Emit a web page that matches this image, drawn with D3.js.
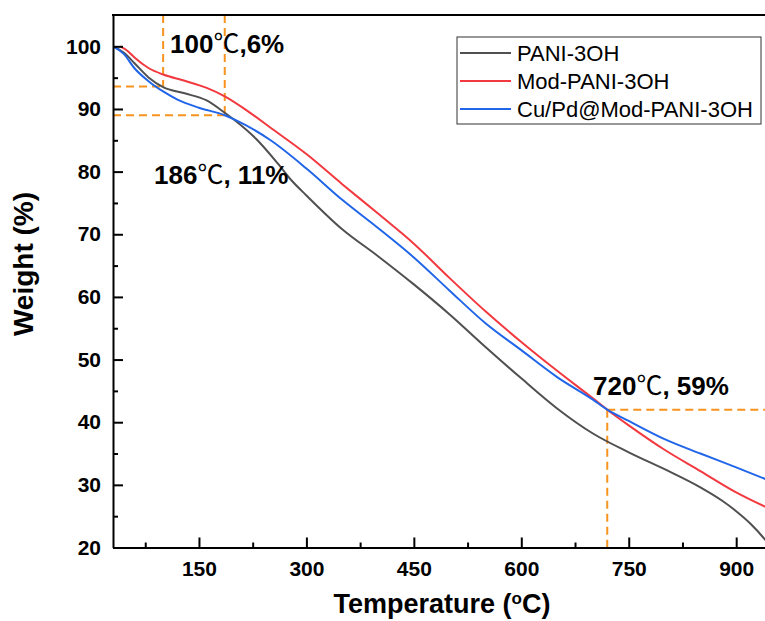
<!DOCTYPE html>
<html>
<head>
<meta charset="utf-8">
<script src="https://cdn.jsdelivr.net/npm/d3@7"></script>
<style>
  body { margin: 0; background: #fff; }
  text { font-family: "Liberation Sans", Arial, sans-serif; }
</style>
</head>
<body>
<div id="chart"></div>
<script>
// series names and colours
const seriesNames = ["PANI-3OH", "Mod-PANI-3OH", "Cu/Pd@Mod-PANI-3OH"];
const seriesColors = ["#505050", "#F2393F", "#2166E8"];

// temperature (C) / weight (%)
const paniT = [30, 45, 60, 80, 100, 130, 160, 186, 200, 230, 260, 280, 300, 350, 400, 450, 500, 550, 600, 650, 700, 750, 800, 850, 880, 900, 920, 940, 950];
const paniW = [100, 99, 97.3, 95.0, 93.5, 92.5, 91.4, 89.4, 88.2, 85.2, 81.3, 78.5, 76.2, 70.8, 66.5, 62.0, 57.2, 52.0, 47.0, 42.2, 38.2, 35.2, 32.5, 29.6, 27.5, 25.8, 23.8, 21.3, 19.8];

const modT = [40, 50, 60, 80, 100, 130, 160, 186, 220, 250, 300, 350, 400, 450, 500, 550, 600, 650, 700, 720, 750, 800, 850, 900, 950];
const modW = [100, 99.3, 98.2, 96.5, 95.5, 94.5, 93.4, 92.0, 89.5, 87.0, 82.8, 78.0, 73.3, 68.5, 63.0, 57.7, 52.8, 48.2, 43.8, 42.0, 39.5, 35.6, 32.2, 28.8, 26.0];

const cuT = [30, 45, 60, 80, 100, 120, 150, 186, 200, 250, 300, 350, 400, 450, 500, 550, 600, 650, 700, 720, 750, 800, 850, 900, 950];
const cuW = [100, 98.8, 96.5, 94.4, 92.8, 91.5, 90.2, 89.0, 88.3, 85.0, 80.5, 75.5, 71.0, 66.3, 61.0, 55.8, 51.5, 47.2, 43.6, 42.0, 40.2, 37.3, 35.0, 32.8, 30.5];

const xTicks = [150, 300, 450, 600, 750, 900];
const xMinor = [75, 225, 375, 525, 675, 825];
const yTicks = [20, 30, 40, 50, 60, 70, 80, 90, 100];
const yMinor = [25, 35, 45, 55, 65, 75, 85, 95];

const fullwidth = 765;
const fullheight = 621;
const plotLeft = 113, plotTop = 15, plotRight = 772, plotBottom = 547.5;
const orange = "#F7931E";

var svg = d3.select("#chart").append("svg")
  .attr("width", fullwidth)
  .attr("height", fullheight);

var x = d3.scaleLinear().domain([30, 950]).range([plotLeft, plotRight]);
var y = d3.scaleLinear().domain([20, 105]).range([plotBottom, plotTop]);

svg.append("defs").append("clipPath").attr("id", "plotclip")
  .append("rect").attr("x", plotLeft).attr("y", plotTop)
  .attr("width", plotRight - plotLeft).attr("height", plotBottom - plotTop);

// dashed guides
var guides = svg.append("g")
  .attr("stroke", orange).attr("stroke-width", 2)
  .attr("stroke-dasharray", "8,5").attr("fill", "none");
guides.append("line").attr("x1", x(100)).attr("x2", x(100)).attr("y1", y(105)).attr("y2", y(93.6));
guides.append("line").attr("x1", x(30)).attr("x2", x(100)).attr("y1", y(93.6)).attr("y2", y(93.6));
guides.append("line").attr("x1", x(186)).attr("x2", x(186)).attr("y1", y(105)).attr("y2", y(89));
guides.append("line").attr("x1", x(30)).attr("x2", x(186)).attr("y1", y(89)).attr("y2", y(89));
guides.append("line").attr("x1", x(720)).attr("x2", x(720)).attr("y1", y(42)).attr("y2", y(20));
guides.append("line").attr("x1", x(720)).attr("x2", x(950)).attr("y1", y(42)).attr("y2", y(42));

// curves
var line = d3.line()
  .x(d => x(d[0]))
  .y(d => y(d[1]))
  .curve(d3.curveMonotoneX);

var series = [
  d3.zip(paniT, paniW),
  d3.zip(modT, modW),
  d3.zip(cuT, cuW)
];

svg.append("g").attr("clip-path", "url(#plotclip)")
  .selectAll("path")
  .data(series)
  .enter().append("path")
  .attr("fill", "none")
  .attr("stroke", (d, i) => seriesColors[i])
  .attr("stroke-width", 2)
  .attr("d", line);

// axes, ticks pointing inward
svg.append("g")
  .attr("transform", "translate(0," + plotBottom + ")")
  .call(d3.axisBottom(x).tickValues(xTicks).tickSizeInner(-10).tickSizeOuter(0).tickPadding(14));
svg.append("g")
  .attr("transform", "translate(0," + plotBottom + ")")
  .call(d3.axisBottom(x).tickValues(xMinor).tickSizeInner(-5).tickSizeOuter(0).tickFormat(""))
  .call(g => g.select(".domain").remove());

svg.append("g")
  .attr("transform", "translate(" + plotLeft + ",0)")
  .call(d3.axisLeft(y).tickValues(yTicks).tickSizeInner(-10).tickSizeOuter(0).tickPadding(12));
svg.append("g")
  .attr("transform", "translate(" + plotLeft + ",0)")
  .call(d3.axisLeft(y).tickValues(yMinor).tickSizeInner(-5).tickSizeOuter(0).tickFormat(""))
  .call(g => g.select(".domain").remove());

svg.selectAll(".domain").attr("stroke", "#000").attr("stroke-width", 2);
svg.selectAll(".tick line").attr("stroke", "#000").attr("stroke-width", 2);
svg.selectAll(".tick text")
  .attr("fill", "#000")
  .style("font-size", "21px")
  .style("font-weight", "bold")
  .style("font-family", "'Liberation Sans', Arial, sans-serif");

// frame top and right
svg.append("line").attr("x1", plotLeft - 1).attr("x2", plotRight).attr("y1", plotTop).attr("y2", plotTop)
  .attr("stroke", "#000").attr("stroke-width", 2);
svg.append("line").attr("x1", plotRight).attr("x2", plotRight).attr("y1", plotTop).attr("y2", plotBottom)
  .attr("stroke", "#000").attr("stroke-width", 2);

// axis titles
var xt = svg.append("text")
  .attr("x", 442).attr("y", 613)
  .attr("text-anchor", "middle")
  .style("font-size", "27px").style("font-weight", "bold");
xt.append("tspan").text("Temperature (");
xt.append("tspan").text("o").attr("baseline-shift", "super").style("font-size", "17px");
xt.append("tspan").text("C)");

svg.append("text")
  .attr("transform", "translate(33,264) rotate(-90)")
  .attr("text-anchor", "middle")
  .style("font-size", "28px").style("font-weight", "bold")
  .text("Weight (%)");

// annotations
var notes = [
  { t: "100", u: ",6%", x: 170, y: 53 },
  { t: "186", u: ", 11%", x: 154, y: 184 },
  { t: "720", u: ", 59%", x: 593, y: 395 }
];
notes.forEach(function (n) {
  var tx = svg.append("text")
    .attr("x", n.x).attr("y", n.y)
    .style("font-size", "26px").style("font-weight", "bold").attr("fill", "#000");
  tx.append("tspan").text(n.t);
  tx.append("tspan").text("℃")
    .style("font-family", "'Noto Sans CJK SC', sans-serif")
    .style("font-weight", "normal");
  tx.append("tspan").text(n.u);
});

// legend
var legend = svg.append("g").attr("id", "legend");
legend.append("rect")
  .attr("x", 457).attr("y", 37).attr("width", 304).attr("height", 87)
  .attr("fill", "#fff").attr("stroke", "#333").attr("stroke-width", 1);
seriesNames.forEach(function (name, i) {
  var ly = 53 + i * 28;
  legend.append("line")
    .attr("x1", 460).attr("x2", 511).attr("y1", ly).attr("y2", ly)
    .attr("stroke", seriesColors[i]).attr("stroke-width", 2);
  legend.append("text")
    .attr("x", 517).attr("y", ly).attr("dy", "0.36em")
    .style("font-size", "22px").attr("fill", "#000")
    .text(name);
});
</script>
</body>
</html>
